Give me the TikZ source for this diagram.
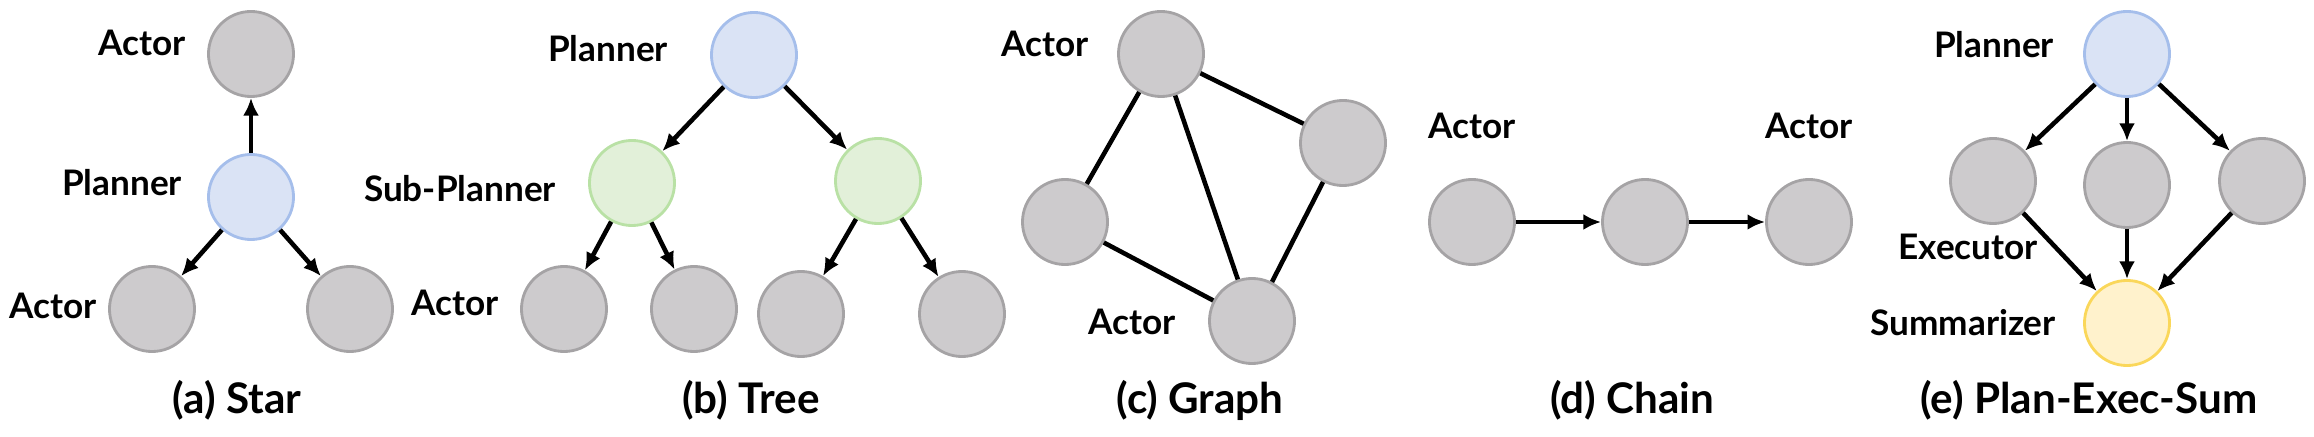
\documentclass[tikz,border=0pt]{standalone}
\usepackage{fontspec}
\setmainfont{Lato}
\usetikzlibrary{arrows.meta}
\definecolor{ndgray}{RGB}{205,203,205}
\definecolor{ndline}{RGB}{165,163,165}
\definecolor{ndblue}{RGB}{218,227,245}
\definecolor{ndblueline}{RGB}{165,190,235}
\definecolor{ndgreen}{RGB}{226,240,217}
\definecolor{ndgreenline}{RGB}{185,225,165}
\definecolor{ndyellow}{RGB}{255,242,204}
\definecolor{ndyellowline}{RGB}{250,215,90}
\begin{document}
\begin{tikzpicture}[x=0.01cm, y=-0.01cm]
		\tikzset{nd/.style={circle, draw=ndline, fill=ndgray, line width=0.8pt, minimum width=0.85cm, inner sep=0pt},
			pl/.style={nd, draw=ndblueline, fill=ndblue},
			sp/.style={nd, draw=ndgreenline, fill=ndgreen},
			sm/.style={nd, draw=ndyellowline, fill=ndyellow},
			lb/.style={font=\bfseries\fontsize{10}{12}\selectfont},
			capt/.style={font=\bfseries\fontsize{12}{14}\selectfont},
			ar/.style={-{Latex[length=5pt,width=4.5pt]}, line width=1.3pt},
			ln/.style={line width=1.3pt}};
		\useasboundingbox (0,0) rectangle (2314,437);

		% (a) Star
		\node[nd] (a1) at (251,54) {};
		\node[pl] (a0) at (251,197) {};
		\node[nd] (a2) at (152,309) {};
		\node[nd] (a3) at (350,309) {};
		\node[lb] at (142,43) {Actor};
		\node[lb] at (122,183) {Planner};
		\node[lb] at (53,306) {Actor};
		\node[capt] at (237,400) {(a) Star};
		\draw[ar] (a0) to (a1);
		\draw[ar] (a0) to (a2);
		\draw[ar] (a0) to (a3);

		% (b) Tree
		\node[pl] (b0) at (754,55) {};
		\node[sp] (b1) at (632,183) {};
		\node[sp] (b2) at (878,181) {};
		\node[nd] (b3) at (564,309) {};
		\node[nd] (b4) at (694,309) {};
		\node[nd] (b5) at (801,314) {};
		\node[nd] (b6) at (962,314) {};
		\node[lb] at (608,49) {Planner};
		\node[lb] at (460,189) {Sub-Planner};
		\node[lb] at (455,303) {Actor};
		\node[capt] at (751,400) {(b) Tree};
		\draw[ar] (b0) to (b1);
		\draw[ar] (b0) to (b2);
		\draw[ar] (b1) to (b3);
		\draw[ar] (b1) to (b4);
		\draw[ar] (b2) to (b5);
		\draw[ar] (b2) to (b6);

		% (c) Graph
		\node[nd] (c1) at (1161,54) {};
		\node[nd] (c2) at (1343,143) {};
		\node[nd] (c3) at (1065,222) {};
		\node[nd] (c4) at (1252,321) {};
		\node[lb] at (1045,44) {Actor};
		\node[lb] at (1132,322) {Actor};
		\node[capt] at (1200,400) {(c) Graph};
		\draw[ln] (c1) to (c2);
		\draw[ln] (c1) to (c3);
		\draw[ln] (c1) to (c4);
		\draw[ln] (c3) to (c4);
		\draw[ln] (c2) to (c4);

		% (d) Chain
		\node[nd] (d1) at (1472,222) {};
		\node[nd] (d2) at (1645,222) {};
		\node[nd] (d3) at (1809,222) {};
		\node[lb] at (1472,126) {Actor};
		\node[lb] at (1809,126) {Actor};
		\node[capt] at (1632,400) {(d) Chain};
		\draw[ar] (d1) to (d2);
		\draw[ar] (d2) to (d3);

		% (e) Plan-Exec-Sum
		\node[pl] (e0) at (2127,54) {};
		\node[nd] (e1) at (1993,181) {};
		\node[nd] (e2) at (2127,185) {};
		\node[nd] (e3) at (2262,181) {};
		\node[sm] (e4) at (2127,323) {};
		\node[lb] at (1994,45) {Planner};
		\node[lb] at (1968,247) {Executor};
		\node[lb] at (1963,323) {Summarizer};
		\node[capt] at (2089,400) {(e) Plan-Exec-Sum};
		\draw[ar] (e0) to (e1);
		\draw[ar] (e0) to (e2);
		\draw[ar] (e0) to (e3);
		\draw[ar] (e1) to (e4);
		\draw[ar] (e2) to (e4);
		\draw[ar] (e3) to (e4);
\end{tikzpicture}
\end{document}
